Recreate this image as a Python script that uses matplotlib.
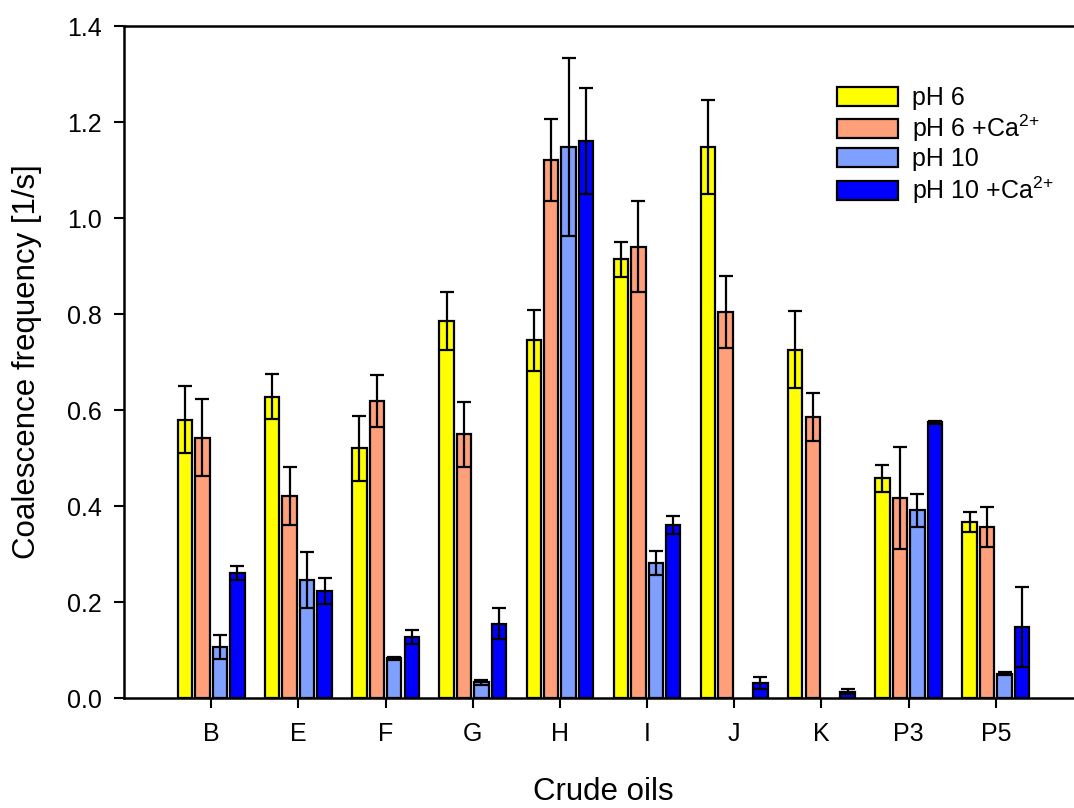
import numpy as np
import matplotlib
matplotlib.use("Agg")
import matplotlib.pyplot as plt

plt.rcParams["font.family"] = ["Liberation Sans", "DejaVu Sans"]

# Data
oils = ["B", "E", "F", "G", "H", "I", "J", "K", "P3", "P5"]

ph6 = [0.580, 0.628, 0.520, 0.786, 0.745, 0.914, 1.148, 0.726, 0.458, 0.366]
ph6_err = [0.070, 0.046, 0.067, 0.060, 0.063, 0.036, 0.097, 0.080, 0.028, 0.021]

ph6_ca = [0.542, 0.421, 0.619, 0.549, 1.121, 0.940, 0.805, 0.585, 0.416, 0.356]
ph6_ca_err = [0.080, 0.060, 0.054, 0.067, 0.085, 0.095, 0.075, 0.050, 0.106, 0.042]

ph10 = [0.106, 0.246, 0.083, 0.033, 1.148, 0.282, np.nan, np.nan, 0.391, 0.051]
ph10_err = [0.025, 0.058, 0.003, 0.005, 0.186, 0.025, np.nan, np.nan, 0.035, 0.004]

ph10_ca = [0.261, 0.223, 0.127, 0.155, 1.161, 0.361, 0.031, 0.013, 0.574, 0.148]
ph10_ca_err = [0.015, 0.027, 0.015, 0.033, 0.110, 0.019, 0.013, 0.005, 0.004, 0.084]

sup = r"$\mathregular{^{2{+}}}$"
series = [
    ("pH 6", ph6, ph6_err, "#FFFF00"),
    ("pH 6 +Ca" + sup, ph6_ca, ph6_ca_err, "#FFA07A"),
    ("pH 10", ph10, ph10_err, "#80A0FF"),
    ("pH 10 +Ca" + sup, ph10_ca, ph10_ca_err, "#0000FF"),
]

fig = plt.figure(figsize=(10.74, 8.08), dpi=100)
ax = fig.add_axes([124 / 1074, 1 - 698 / 808, 959 / 1074, 672 / 808])

x = np.arange(len(oils))
pitch = 0.2
width = 0.165
for i, (label, vals, err, color) in enumerate(series):
    ax.bar(
        x + (i - 1.5) * pitch, vals, width,
        yerr=err, color=color, edgecolor="black", linewidth=1.6,
        label=label,
        error_kw=dict(ecolor="black", elinewidth=1.6, capsize=5, capthick=1.6),
    )

ax.set_xlim(-1.0, 10.0)
ax.set_ylim(0, 1.4)
yt = np.arange(0, 1.41, 0.2)
ax.set_yticks(yt)
ax.set_yticklabels([f"{v:.1f}" for v in yt])
ax.set_xticks(x)
ax.set_xticklabels(oils)

ax.tick_params(axis="both", direction="out", length=7, width=1.5, labelsize=18)
ax.tick_params(axis="y", pad=9)
ax.tick_params(axis="x", pad=10)
for side in ["left", "bottom", "top"]:
    ax.spines[side].set_linewidth(1.8)
ax.spines["right"].set_visible(False)

ax.set_xlabel("Crude oils", fontsize=22.5)
ax.set_ylabel("Coalescence frequency [1/s]", fontsize=22.5)
ax.xaxis.set_label_coords(0.5, -0.117)
ax.yaxis.set_label_coords(-0.085, 0.5)

ax.legend(
    loc="upper left", bbox_to_anchor=(837 / 1074, 1 - 86 / 808),
    bbox_transform=fig.transFigure, frameon=False, fontsize=18,
    handlelength=2.45, handleheight=0.8, handletextpad=0.55,
    labelspacing=0.12, borderpad=0, borderaxespad=0,
)

fig.savefig("out.png", dpi=100)
plt.close(fig)
